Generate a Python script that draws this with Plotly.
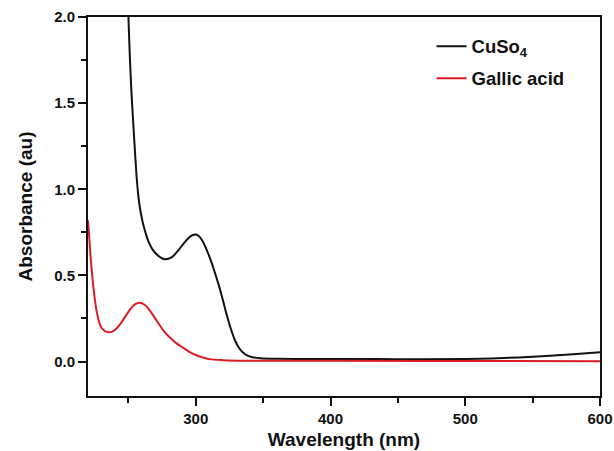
import plotly.graph_objects as go

# CuSO4 spectrum
cuso4_wl = [248, 250, 251, 252, 253, 254, 255, 256, 257, 258, 259.5, 261, 263, 265, 268, 272,
            277, 282, 287, 292, 296, 299.5, 302, 305, 308, 311, 314, 317, 320, 323, 326, 329,
            332, 335, 338, 342, 348, 360, 400, 450, 500, 520, 540, 560, 580, 600]
cuso4_abs = [2.3, 2.0, 1.78, 1.6, 1.46, 1.33, 1.2, 1.08, 0.99, 0.92, 0.85, 0.795, 0.74, 0.695,
             0.65, 0.615, 0.594, 0.605, 0.645, 0.695, 0.727, 0.737, 0.73, 0.7, 0.65, 0.59,
             0.52, 0.445, 0.36, 0.27, 0.19, 0.125, 0.08, 0.052, 0.036, 0.025, 0.019, 0.016,
             0.015, 0.014, 0.015, 0.018, 0.024, 0.032, 0.042, 0.054]

# Gallic acid spectrum
gallic_wl = [220, 221, 222, 223, 224, 225, 226, 227, 228, 229, 230, 232, 234, 236, 238, 241,
             244, 248, 252, 255, 258.5, 262, 265, 268, 271, 275, 280, 285, 290, 295, 300,
             305, 310, 320, 340, 400, 500, 600]
gallic_abs = [0.82, 0.71, 0.6, 0.51, 0.43, 0.365, 0.31, 0.268, 0.236, 0.212, 0.196, 0.18,
              0.172, 0.17, 0.174, 0.19, 0.218, 0.265, 0.31, 0.333, 0.342, 0.33, 0.305, 0.272,
              0.237, 0.19, 0.145, 0.11, 0.083, 0.058, 0.038, 0.024, 0.014, 0.008, 0.005,
              0.004, 0.003, 0.002]

x_tickvals = [300, 400, 500, 600]
y_tickvals = [0.0, 0.5, 1.0, 1.5, 2.0]

FONT = "Liberation Sans, Arial, sans-serif"
INK = "#111111"

fig = go.Figure()
fig.add_trace(go.Scatter(x=cuso4_wl, y=cuso4_abs, mode="lines", name="CuSo<sub>4</sub>",
                         legendgroup="a",
                         line=dict(color=INK, width=2, shape="spline", smoothing=1.0)))
fig.add_trace(go.Scatter(x=gallic_wl, y=gallic_abs, mode="lines", name="Gallic acid",
                         legendgroup="b",
                         line=dict(color="#dc1c24", width=2, shape="spline", smoothing=1.0)))

axis_common = dict(
    ticks="outside", ticklen=8, tickwidth=2, tickcolor=INK,
    showline=True, linewidth=2, linecolor=INK, mirror=True,
    showgrid=False, zeroline=False, automargin=False,
    tickfont=dict(family=FONT, size=15, color=INK, weight="bold"),
)

fig.update_layout(
    width=614, height=451,
    margin=dict(l=88, r=14, t=17, b=55),
    paper_bgcolor="white", plot_bgcolor="white",
    font=dict(family=FONT, color=INK),
    legend=dict(x=0.671, y=0.972, xanchor="left", yanchor="top", tracegroupgap=5,
                font=dict(family=FONT, size=18.5, color=INK, weight="bold"),
                bgcolor="rgba(0,0,0,0)", borderwidth=0),
    xaxis=dict(range=[220, 600], tickvals=x_tickvals,
               minor=dict(ticks="outside", ticklen=5, tickwidth=2, tickcolor=INK,
                          dtick=50, tick0=0, showgrid=False),
               title=dict(text="Wavelength (nm)", standoff=7,
                          font=dict(family=FONT, size=19, color=INK, weight="bold")),
               **axis_common),
    yaxis=dict(range=[-0.2, 2.0], tickvals=y_tickvals, tickformat=".1f",
               minor=dict(ticks="outside", ticklen=5, tickwidth=2, tickcolor=INK,
                          dtick=0.25, tick0=0, showgrid=False),
               title=dict(text="Absorbance (au)", standoff=16,
                          font=dict(family=FONT, size=19, color=INK, weight="bold")),
               **axis_common),
)

# Remove the default page margin so the 614x451 figure fills the window exactly.
fig.write_html(
    "out.html",
    config={"displayModeBar": False},
    post_script="document.body.style.margin='0';document.body.style.overflow='hidden';",
)
